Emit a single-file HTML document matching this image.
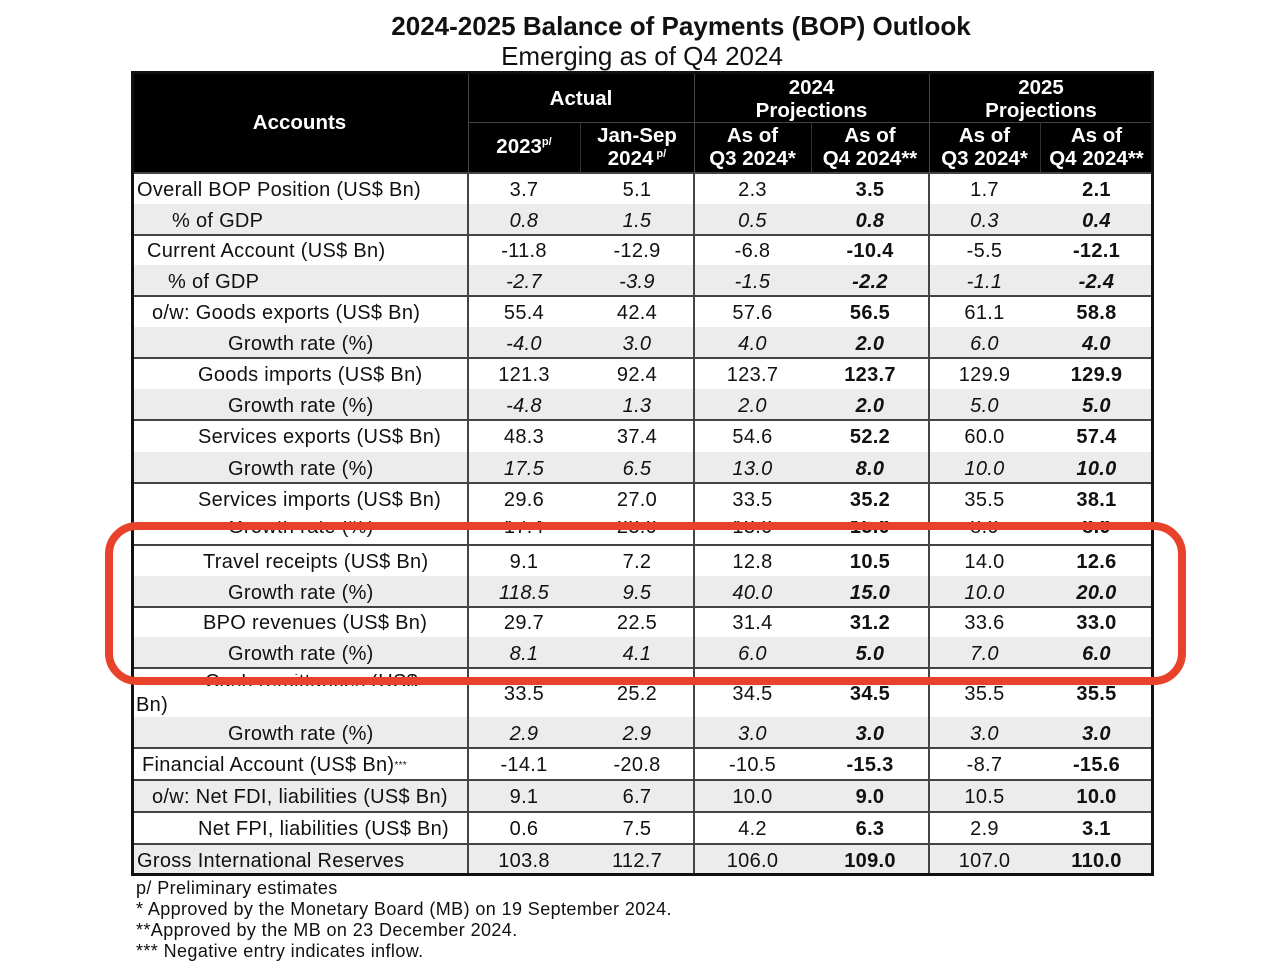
<!DOCTYPE html>
<html><head><meta charset="utf-8"><style>
*{margin:0;padding:0;box-sizing:border-box}
body{width:1280px;height:960px;background:#fff;position:relative;overflow:hidden;font-family:"Liberation Sans",sans-serif;color:#111}
.a{position:absolute;white-space:nowrap}
.c{text-align:center}
.hd{color:#fff;font-weight:bold;font-size:20.5px;line-height:23px}
.hd sup{font-size:11px;line-height:0;vertical-align:0;position:relative;top:-8px}
.cell{position:absolute;font-size:20px;letter-spacing:0.3px;display:flex;align-items:center;justify-content:center;white-space:nowrap;overflow:hidden;padding-top:3px}
.lab{justify-content:flex-start}
.b{font-weight:bold}.i{font-style:italic}
</style></head><body>
<div class="a c" style="left:0;width:1362px;top:11px;font-size:26px;font-weight:bold">2024-2025 Balance of Payments (BOP) Outlook</div>
<div class="a c" style="left:0;width:1284px;top:41px;font-size:26px">Emerging as of Q4 2024</div>
<div class="a" style="left:131px;top:71px;width:1023px;height:102px;background:#000"></div>
<div class="a" style="left:468px;top:71px;width:1px;height:102px;background:#444"></div>
<div class="a" style="left:694px;top:71px;width:1px;height:102px;background:#444"></div>
<div class="a" style="left:929px;top:71px;width:1px;height:102px;background:#444"></div>
<div class="a" style="left:469px;top:122px;width:684px;height:1px;background:#444"></div>
<div class="a" style="left:580px;top:122px;width:1px;height:50px;background:#333"></div>
<div class="a" style="left:811px;top:122px;width:1px;height:50px;background:#333"></div>
<div class="a" style="left:1040px;top:122px;width:1px;height:50px;background:#333"></div>
<div class="a hd c" style="left:131px;width:337px;top:111px">Accounts</div>
<div class="a hd c" style="left:468px;width:226px;top:87px">Actual</div>
<div class="a hd c" style="left:694px;width:235px;top:76px">2024<br>Projections</div>
<div class="a hd c" style="left:929px;width:224px;top:76px">2025<br>Projections</div>
<div class="a hd c" style="left:468px;width:112px;top:135px">2023<sup>p/</sup></div>
<div class="a hd c" style="left:580px;width:114px;top:124px">Jan-Sep<br>2024<sup> p/</sup></div>
<div class="a hd c" style="left:694px;width:117px;top:124px">As of<br>Q3 2024*</div>
<div class="a hd c" style="left:811px;width:118px;top:124px">As of<br>Q4 2024**</div>
<div class="a hd c" style="left:929px;width:111px;top:124px">As of<br>Q3 2024*</div>
<div class="a hd c" style="left:1040px;width:113px;top:124px">As of<br>Q4 2024**</div>
<div id="body"></div>
<div class="a" style="left:131px;top:71px;width:1023px;height:805px;border:3px solid #111"></div>
<div class="a" style="left:136px;top:878px;font-size:18px;letter-spacing:0.4px;line-height:21px">p/ Preliminary estimates<br>* Approved by the Monetary Board (MB) on 19 September 2024.<br>**Approved by the MB on 23 December 2024.<br>*** Negative entry indicates inflow.</div>
<div class="a" style="left:105px;top:522px;width:1081px;height:163px;border:8px solid #e8432a;border-radius:32px"></div>
<script>
var R=[
[173,204,0,137,"Overall BOP Position (US$ Bn)",["3.7","5.1","2.3","3.5","1.7","2.1"]],
[204,235,1,172,"% of GDP",["0.8","1.5","0.5","0.8","0.3","0.4"]],
[235,265,0,147,"Current Account (US$ Bn)",["-11.8","-12.9","-6.8","-10.4","-5.5","-12.1"]],
[265,296,1,168,"% of GDP",["-2.7","-3.9","-1.5","-2.2","-1.1","-2.4"]],
[296,327,0,152,"o/w: Goods exports (US$ Bn)",["55.4","42.4","57.6","56.5","61.1","58.8"]],
[327,358,1,228,"Growth rate (%)",["-4.0","3.0","4.0","2.0","6.0","4.0"]],
[358,389,0,198,"Goods imports (US$ Bn)",["121.3","92.4","123.7","123.7","129.9","129.9"]],
[389,420,1,228,"Growth rate (%)",["-4.8","1.3","2.0","2.0","5.0","5.0"]],
[420,452,0,198,"Services exports (US$ Bn)",["48.3","37.4","54.6","52.2","60.0","57.4"]],
[452,483,1,228,"Growth rate (%)",["17.5","6.5","13.0","8.0","10.0","10.0"]],
[483,514,0,198,"Services imports (US$ Bn)",["29.6","27.0","33.5","35.2","35.5","38.1"]],
[514,545,3,228,"Growth rate (%)",["17.4","23.0","13.0","15.0","8.0","8.0"]],
[545,576,0,203,"Travel receipts (US$ Bn)",["9.1","7.2","12.8","10.5","14.0","12.6"]],
[576,607,1,228,"Growth rate (%)",["118.5","9.5","40.0","15.0","10.0","20.0"]],
[607,637,0,203,"BPO revenues (US$ Bn)",["29.7","22.5","31.4","31.2","33.6","33.0"]],
[637,668,1,228,"Growth rate (%)",["8.1","4.1","6.0","5.0","7.0","6.0"]],
[668,717,4,137,"",["33.5","25.2","34.5","34.5","35.5","35.5"]],
[717,748,1,228,"Growth rate (%)",["2.9","2.9","3.0","3.0","3.0","3.0"]],
[748,780,0,142,"Financial Account (US$ Bn)<sup style='font-size:10px'>***</sup>",["-14.1","-20.8","-10.5","-15.3","-8.7","-15.6"]],
[780,812,5,152,"o/w: Net FDI, liabilities (US$ Bn)",["9.1","6.7","10.0","9.0","10.5","10.0"]],
[812,844,0,198,"Net FPI, liabilities (US$ Bn)",["0.6","7.5","4.2","6.3","2.9","3.1"]],
[844,875,5,137,"Gross International Reserves",["103.8","112.7","106.0","109.0","107.0","110.0"]]];
var X=[468,580,694,811,929,1040,1153],h="";
R.forEach(function(r){
 var t=r[0],b=r[1],k=r[2],gray=(k==1||k==5),it=(k==1);
 h+='<div class="a" style="left:131px;top:'+t+'px;width:1022px;height:'+(b-t)+'px;background:'+(gray?'#ececec':'#fff')+'"></div>';
 if(k!=1&&k!=3) h+='<div class="a" style="left:131px;top:'+(t-1)+'px;width:1022px;height:2px;background:#444"></div>';
 if(k==3){
  var st='top:521px;height:22px;overflow:hidden;font-size:20px;letter-spacing:0.3px;';
  h+='<div class="a" style="left:'+r[3]+'px;'+st+'"><div style="position:relative;top:-4px;line-height:20px">'+r[4]+'</div></div>';
  for(var j=0;j<6;j++)h+='<div class="a c'+(j==3||j==5?' b':'')+'" style="left:'+X[j]+'px;width:'+(X[j+1]-X[j])+'px;'+st+'"><div style="position:relative;top:-4px;line-height:20px">'+r[5][j]+'</div></div>';
  return;
 }
 if(k==4){
  h+='<div class="a" style="left:205px;top:674px;height:12px;overflow:hidden;font-size:20px;letter-spacing:0.3px"><div style="position:relative;top:-2px;line-height:20px">Cash remittances (US$</div></div>';
  h+='<div class="cell lab" style="left:136px;top:692px;height:24px">Bn)</div>';
 } else h+='<div class="cell lab" style="left:'+r[3]+'px;top:'+t+'px;height:'+(b-t)+'px">'+r[4]+'</div>';
 for(var j=0;j<6;j++){
  var cl='cell'+(j==3||j==5?' b':'')+(it?' i':'');
  h+='<div class="'+cl+'" style="left:'+X[j]+'px;width:'+(X[j+1]-X[j])+'px;top:'+t+'px;height:'+(b-t)+'px">'+r[5][j]+'</div>';
 }
});
[468,694,929].forEach(function(x){h+='<div class="a" style="left:'+(x-1)+'px;top:173px;width:2px;height:703px;background:#444"></div>';});
document.getElementById('body').innerHTML=h;
</script>
</body></html>
